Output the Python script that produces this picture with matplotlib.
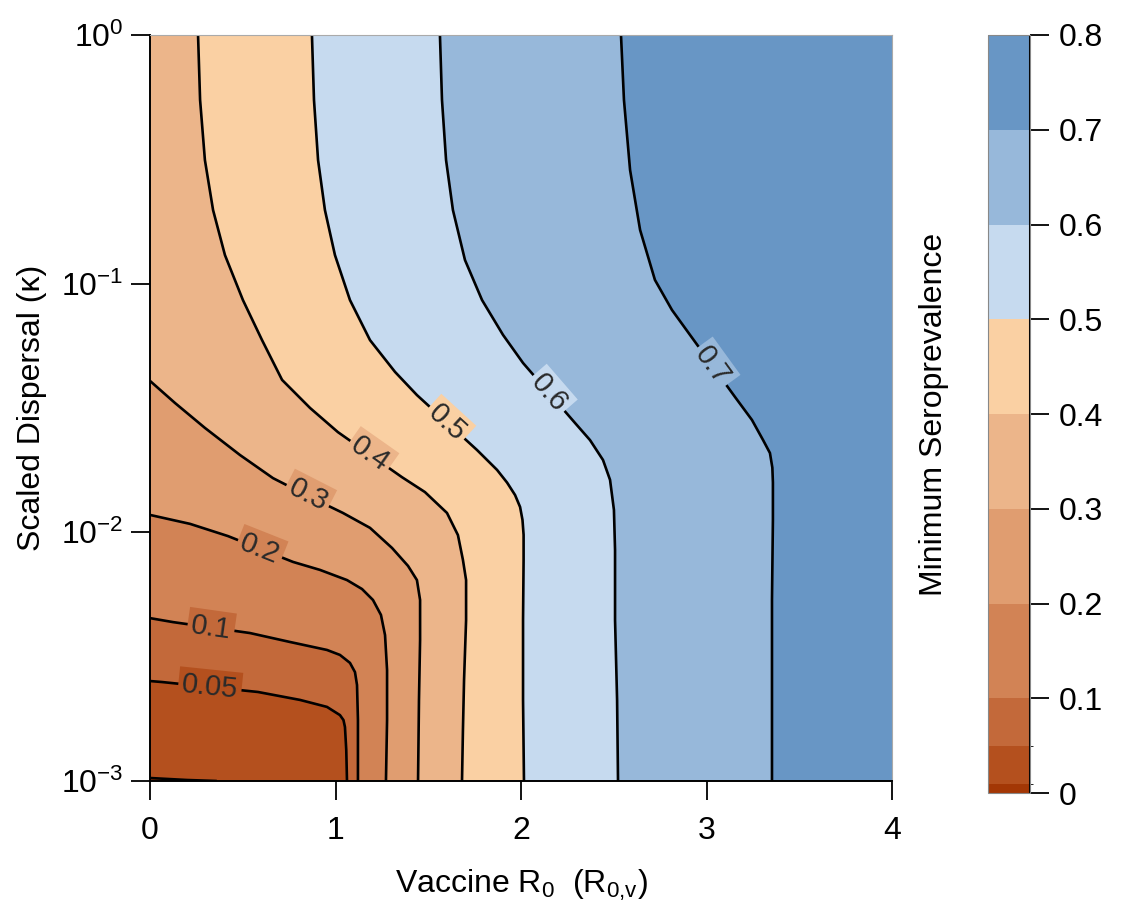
import numpy as np
import matplotlib
matplotlib.use('Agg')
import matplotlib.pyplot as plt
from matplotlib.colors import ListedColormap, BoundaryNorm
from matplotlib.cm import ScalarMappable
from matplotlib.ticker import NullLocator

plt.rcParams['font.family'] = ['Liberation Sans', 'DejaVu Sans']
plt.rcParams['mathtext.default'] = 'regular'

# filled contour levels and the colour of each band
levels = [0, 0.01, 0.05, 0.1, 0.2, 0.3, 0.4, 0.5, 0.6, 0.7, 0.8]
band_colors = ['#A33705', '#B4501E', '#C3693A', '#D28355', '#E09D70',
               '#ECB58A', '#FAD0A3', '#C6DAEF', '#97B8DA', '#6896C5']
cbar_ticks = [0, 0.1, 0.2, 0.3, 0.4, 0.5, 0.6, 0.7, 0.8]

# contour lines: vaccine R0 and log10(kappa)
c001_r0 = [0.0, 0.20, 0.36]
c001_lk = [-2.988, -2.996, -3.0]

c005_r0 = [0.0, 0.065, 0.582, 0.809, 0.954, 1.024, 1.043, 1.051, 1.058, 1.062]
c005_lk = [-2.598, -2.602, -2.642, -2.674, -2.702, -2.735, -2.755, -2.783, -2.875, -3.0]

c01_r0 = [0.0, 0.124, 0.539, 0.755, 0.954, 1.024, 1.078, 1.105, 1.116, 1.121, 1.121]
c01_lk = [-2.345, -2.361, -2.405, -2.441, -2.473, -2.493, -2.525, -2.562, -2.614, -2.755, -3.0]

c02_r0 = [0.0, 0.216, 0.420, 0.771, 0.916, 1.062, 1.143, 1.202, 1.245, 1.267, 1.278, 1.278, 1.272]
c02_lk = [-1.930, -1.966, -2.015, -2.119, -2.151, -2.192, -2.228, -2.272, -2.332, -2.413, -2.554, -2.755, -3.0]

c03_r0 = [0.0, 0.135, 0.296, 0.485, 0.663, 0.852, 1.040, 1.186, 1.305, 1.391, 1.439, 1.456, 1.456, 1.450, 1.445]
c03_lk = [-1.391, -1.480, -1.580, -1.689, -1.782, -1.854, -1.922, -1.982, -2.063, -2.135, -2.192, -2.272, -2.433, -2.674, -3.0]

c04_r0 = [0.259, 0.270, 0.296, 0.340, 0.404, 0.501, 0.604, 0.712, 0.863, 1.013, 1.358, 1.482,
          1.601, 1.660, 1.687, 1.704, 1.704, 1.693, 1.687, 1.682]
c04_lk = [0.0, -0.261, -0.503, -0.704, -0.885, -1.066, -1.227, -1.387, -1.500, -1.597, -1.778, -1.838,
          -1.922, -2.011, -2.111, -2.192, -2.353, -2.594, -2.795, -3.0]

c05_r0 = [0.873, 0.884, 0.906, 0.943, 0.997, 1.078, 1.186, 1.321, 1.439, 1.763, 1.871, 1.925,
          1.968, 1.995, 2.008, 2.014, 2.014, 2.011, 2.011, 2.016]
c05_lk = [0.0, -0.261, -0.503, -0.704, -0.885, -1.066, -1.227, -1.355, -1.448, -1.669, -1.749, -1.800,
          -1.850, -1.898, -1.950, -2.010, -2.111, -2.353, -2.674, -3.0]

c06_r0 = [1.563, 1.574, 1.596, 1.633, 1.698, 1.790, 1.903, 2.011, 2.291, 2.372, 2.442, 2.480,
          2.501, 2.507, 2.507, 2.518, 2.523]
c06_lk = [0.0, -0.261, -0.503, -0.704, -0.905, -1.066, -1.206, -1.319, -1.560, -1.629, -1.709, -1.789,
          -1.910, -2.071, -2.353, -2.674, -3.0]

c07_r0 = [2.539, 2.555, 2.588, 2.642, 2.722, 2.814, 2.911, 3.154, 3.245, 3.305, 3.342, 3.355,
          3.358, 3.358, 3.353, 3.353, 3.353]
c07_lk = [0.0, -0.261, -0.543, -0.784, -0.985, -1.106, -1.206, -1.456, -1.548, -1.629, -1.681, -1.740,
          -1.800, -1.950, -2.272, -2.674, -3.0]

line_levels = [0.01, 0.05, 0.1, 0.2, 0.3, 0.4, 0.5, 0.6, 0.7]
line_r0 = [c001_r0, c005_r0, c01_r0, c02_r0, c03_r0, c04_r0, c05_r0, c06_r0, c07_r0]
line_lk = [c001_lk, c005_lk, c01_lk, c02_lk, c03_lk, c04_lk, c05_lk, c06_lk, c07_lk]

# inline labels: text, R0, log10(kappa)
label_text = ['0.05', '0.1', '0.2', '0.3', '0.4', '0.5', '0.6', '0.7']
label_r0 = [0.323, 0.329, 0.593, 0.852, 1.186, 1.601, 2.151, 3.032]
label_lk = [-2.622, -2.383, -2.067, -1.850, -1.685, -1.559, -1.440, -1.331]

fig = plt.figure(figsize=(11.25, 9.05), dpi=100)
ax = fig.add_axes([150 / 1125, 1 - 781 / 905, 742 / 1125, 746 / 905])
ax.set_xlim(0, 4)
ax.set_yscale('log')
ax.set_ylim(1e-3, 1)
ax.set_facecolor(band_colors[0])

# each level: paint the region with values above it
for i, (xs, lks) in enumerate(zip(line_r0, line_lk)):
    kap = np.power(10.0, lks)
    px = list(xs) + [4, 4, 0]
    py = list(kap) + [1e-3, 1, 1]
    ax.fill(px, py, color=band_colors[i + 1], lw=0, zorder=1)

for xs, lks in zip(line_r0, line_lk):
    ax.plot(xs, np.power(10.0, lks), color='black', lw=1.9, zorder=2,
            solid_joinstyle='round', solid_capstyle='butt')


def label_angle(xs, lks, x0, lk0):
    pts = ax.transData.transform(np.column_stack([xs, np.power(10.0, lks)]))
    c = ax.transData.transform((x0, 10 ** lk0))
    mid = (pts[:-1] + pts[1:]) / 2
    i = np.argmin(np.hypot(mid[:, 0] - c[0], mid[:, 1] - c[1]))
    dx, dy = pts[i + 1] - pts[i]
    return np.degrees(np.arctan2(dy, dx))


for k, txt in enumerate(label_text):
    li = line_levels.index(float(txt))
    ang = label_angle(line_r0[li], line_lk[li], label_r0[k], label_lk[k])
    ax.text(label_r0[k], 10 ** label_lk[k], txt, rotation=ang, rotation_mode='anchor',
            ha='center', va='center', fontsize=21, color='#2a2a2a', zorder=3,
            bbox=dict(boxstyle='square,pad=0.12', fc=band_colors[li], ec='none'))

ax.set_xticks([0, 1, 2, 3, 4])
ax.set_yticks([1e-3, 1e-2, 1e-1, 1])
ax.yaxis.set_minor_locator(NullLocator())
ax.tick_params(axis='both', length=14, width=1.3, labelsize=23, color='black')
ax.tick_params(axis='x', pad=11)
ax.tick_params(axis='y', pad=5)
for side in ['left', 'bottom']:
    ax.spines[side].set_linewidth(1.4)
for side in ['top', 'right']:
    ax.spines[side].set_color('#aaaaaa')
    ax.spines[side].set_linewidth(0.8)

ax.set_xlabel(r'Vaccine R$_0$  (R$_{0{,}v}$)', fontsize=23, labelpad=16)
ax.set_ylabel('Scaled Dispersal (κ)', fontsize=23, labelpad=10)

# colour bar
cax = fig.add_axes([988 / 1125, 1 - 793 / 905, 42 / 1125, 758 / 905])
cmap = ListedColormap(band_colors)
norm = BoundaryNorm(levels, cmap.N)
cbar = fig.colorbar(ScalarMappable(norm=norm, cmap=cmap), cax=cax,
                    spacing='proportional', ticks=cbar_ticks)
cbar.ax.set_yticklabels([f'{t:g}' for t in cbar_ticks])
cbar.ax.tick_params(length=14, width=1.3, labelsize=23, pad=7)
cbar.outline.set_edgecolor('#888888')
cbar.outline.set_linewidth(0.8)
cax.axvline(1, color='black', lw=2.2)
cbar.set_label('Minimum Seroprevalence', fontsize=23, labelpad=28)
cax.yaxis.set_label_position('left')

fig.savefig('out.png', dpi=100)
